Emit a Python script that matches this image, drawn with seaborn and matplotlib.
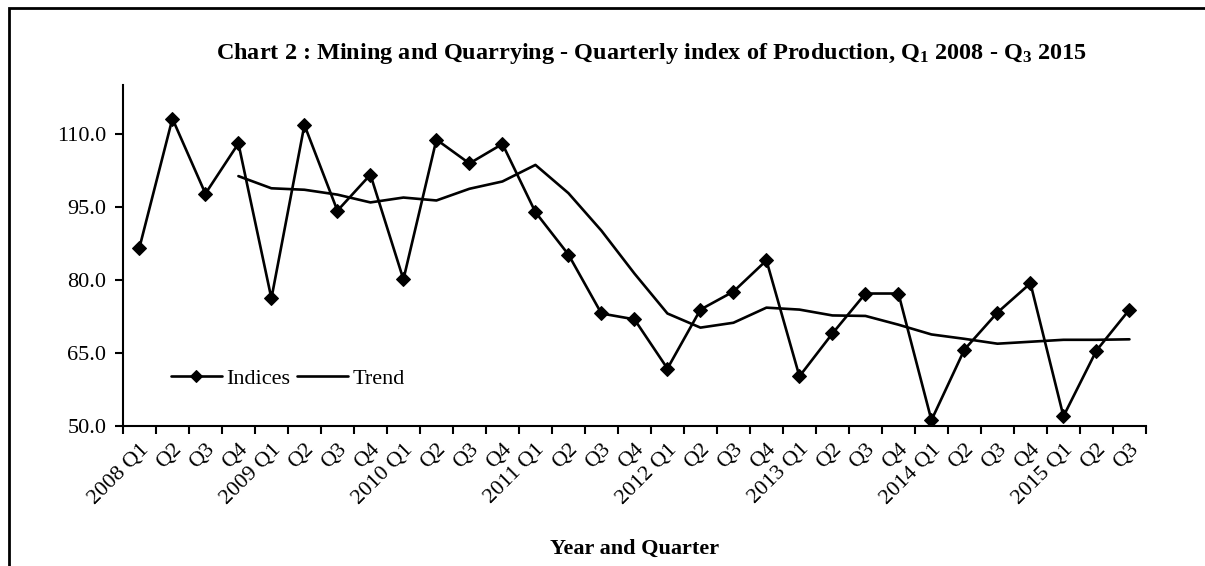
import numpy as np
import pandas as pd
import matplotlib
matplotlib.use("Agg")
import matplotlib.pyplot as plt
import seaborn as sns
from matplotlib.patches import Rectangle

# ---- data ----
years = ["2008", "2009", "2010", "2011", "2012", "2013", "2014", "2015"]
quarters = ["Q1", "Q2", "Q3", "Q4"]
tick_labels = []
for y in years:
    for q in quarters:
        if y == "2015" and q == "Q4":
            break
        tick_labels.append(f"{y} {q}" if q == "Q1" else q)

indices = [86.6, 113.1, 97.7, 108.0,
           76.2, 111.8, 94.2, 101.6,
           80.1, 108.8, 103.9, 107.9,
           93.9, 85.2, 73.1, 71.9,
           61.8, 73.9, 77.6, 84.0,
           60.2, 69.0, 77.2, 77.2,
           51.2, 65.7, 73.3, 79.3,
           52.0, 65.5, 73.9]
trend = [np.nan, np.nan, np.nan, 101.3,
         98.8, 98.5, 97.5, 95.9,
         96.9, 96.3, 98.7, 100.2,
         103.6, 97.8, 90.1, 81.3,
         73.1, 70.2, 71.2, 74.3,
         73.9, 72.7, 72.6, 70.8,
         68.8, 67.9, 66.9, 67.3,
         67.7, 67.7, 67.8]
y_ticks = [50, 65, 80, 95, 110]

df = pd.DataFrame({"pos": np.arange(len(tick_labels)),
                   "Indices": indices, "Trend": trend})

sns.set_theme(style="ticks")
plt.rcParams["font.family"] = ["Liberation Serif", "DejaVu Serif"]
plt.rcParams["text.color"] = "black"
plt.rcParams["axes.labelcolor"] = "black"
plt.rcParams["xtick.color"] = "black"
plt.rcParams["ytick.color"] = "black"
plt.rcParams["mathtext.fontset"] = "custom"
plt.rcParams["mathtext.rm"] = "Liberation Serif:bold"
plt.rcParams["mathtext.bf"] = "Liberation Serif:bold"
plt.rcParams["mathtext.it"] = "Liberation Serif:bold"

fig = plt.figure(figsize=(12.05, 5.66), dpi=100)
ax = fig.add_axes([0.102, 0.2473, 0.849, 0.6025])

sns.lineplot(data=df, x="pos", y="Indices", ax=ax, color="black",
             linewidth=1.9, marker="D", markersize=7.5, markeredgecolor="black",
             label="Indices")
sns.lineplot(data=df.dropna(), x="pos", y="Trend", ax=ax, color="black",
             linewidth=1.9, label="Trend")

ax.set_xlim(-0.5, len(tick_labels) - 0.5)
ax.set_ylim(50, 120)
ax.set_yticks(y_ticks)
ax.set_yticklabels([f"{v:.1f}" for v in y_ticks], fontsize=16)
ax.set_xticks(np.arange(len(tick_labels) + 1) - 0.5)
ax.set_xticklabels([])
ax.set_xticks(np.arange(len(tick_labels)), minor=True)
ax.set_xticklabels(tick_labels, minor=True, rotation=45, ha="right",
                   rotation_mode="anchor", fontsize=16)
ax.tick_params(axis="x", which="minor", length=0, pad=10)
ax.tick_params(axis="x", which="major", length=6, width=1.5, color="black")
ax.tick_params(axis="y", length=6, width=1.5, color="black", labelsize=16, pad=6)

for s in ["top", "right"]:
    ax.spines[s].set_visible(False)
for s in ["left", "bottom"]:
    ax.spines[s].set_linewidth(1.5)
    ax.spines[s].set_color("black")

ax.set_xlabel("Year and Quarter", fontsize=16, fontweight="bold")
ax.xaxis.set_label_coords(0.5, -0.33)
ax.set_ylabel("")

leg = ax.legend(loc="lower left", bbox_to_anchor=(0.027, 0.05), ncol=2,
                frameon=False, fontsize=16, handlelength=2.3,
                columnspacing=0.3, handletextpad=0.2, markerscale=0.8)

fig.text(0.541, 0.906,
         r"Chart 2 : Mining and Quarrying - Quarterly index of Production, Q$_{1}$ 2008 - Q$_{3}$ 2015",
         ha="center", va="center", fontsize=17.5, fontweight="bold")

fig.patches.append(Rectangle((0.0075, -0.05), 1.05, 1.035,
                             transform=fig.transFigure, fill=False,
                             edgecolor="black", linewidth=2.0))

fig.savefig("out.png", dpi=100, facecolor="white")
